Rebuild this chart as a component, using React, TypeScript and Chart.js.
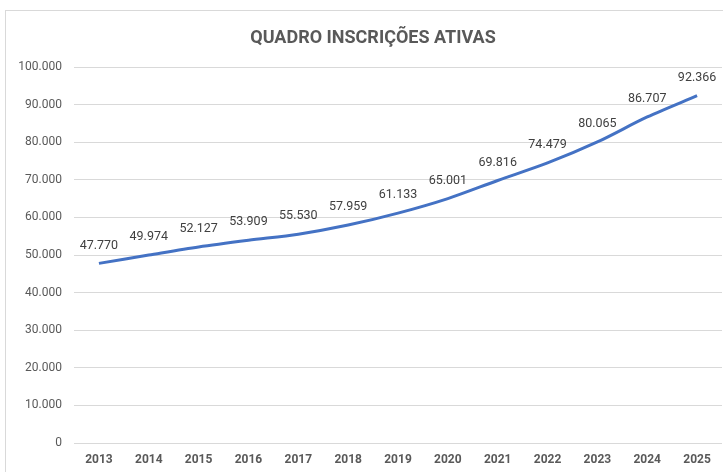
import React, { useEffect, useRef } from "react";
import { Chart, registerables } from "chart.js";

Chart.register(...registerables);

const TITLE = "QUADRO INSCRIÇÕES ATIVAS";
const years = ["2013", "2014", "2015", "2016", "2017", "2018", "2019", "2020", "2021", "2022", "2023", "2024", "2025"];
const inscricoes = [47770, 49974, 52127, 53909, 55530, 57959, 61133, 65001, 69816, 74479, 80065, 86707, 92366];
const yMin = 0;
const yMax = 100000;
const yStep = 10000;

const fmt = (v: number) => {
  if (v === 0) return "0";
  return Math.round(v).toString().replace(/\B(?=(\d{3})+(?!\d))/g, ".");
};

const labelPlugin = {
  id: "pointLabels",
  afterDatasetsDraw(chart: any) {
    const ctx = chart.ctx;
    const meta = chart.getDatasetMeta(0);
    ctx.save();
    ctx.font = "12.5px Roboto";
    ctx.fillStyle = "#404040";
    ctx.textAlign = "center";
    ctx.textBaseline = "middle";
    meta.data.forEach((pt: any, i: number) => {
      ctx.fillText(fmt(inscricoes[i]), pt.x, pt.y - 18);
    });
    ctx.font = "bold 18px Roboto";
    ctx.fillStyle = "#595959";
    ctx.fillText(TITLE, 373, 38);
    ctx.restore();
  },
};

export default function App() {
  const ref = useRef<HTMLCanvasElement>(null);
  useEffect(() => {
    if (!ref.current) return;
    const chart = new Chart(ref.current, {
      type: "line",
      data: {
        labels: years,
        datasets: [
          {
            data: inscricoes,
            borderColor: "#4472C4",
            borderWidth: 3,
            pointRadius: 0,
            tension: 0.3,
            fill: false,
          },
        ],
      },
      options: {
        animation: false,
        responsive: false,
        layout: { padding: { left: 0, right: 1, top: 67, bottom: 0 } },
        plugins: {
          legend: { display: false },
          tooltip: { enabled: false },
          title: { display: false },
        },
        scales: {
          x: {
            offset: true,
            grid: { display: false, drawTicks: false },
            border: { display: false },
            ticks: {
              color: "#595959",
              font: { family: "Roboto", size: 12, weight: "bold" },
              padding: 10,
              maxRotation: 0,
              autoSkip: false,
            },
            afterFit: (s: any) => {
              s.height = 29;
            },
          },
          y: {
            min: yMin,
            max: yMax,
            grid: { color: "#d9d9d9", drawTicks: false, lineWidth: 1 },
            border: { display: false },
            ticks: {
              stepSize: yStep,
              color: "#595959",
              font: { family: "Roboto", size: 12 },
              padding: 12,
              callback: (v: any) => fmt(Number(v)),
            },
            afterFit: (s: any) => {
              s.width = 74;
            },
          },
        },
      },
      plugins: [labelPlugin],
    });
    return () => chart.destroy();
  }, []);
  return (
    <div style={{ position: "fixed", left: 0, top: 0, width: 723, height: 472, background: "#fff", overflow: "hidden" }}>
      <div
        style={{
          position: "absolute",
          left: 5,
          top: 10,
          width: 760,
          height: 500,
          border: "1px solid #d9d9d9",
          boxSizing: "border-box",
        }}
      />
      <canvas ref={ref} width={723} height={472} style={{ position: "absolute", left: 0, top: 0, display: "block" }} />
    </div>
  );
}
